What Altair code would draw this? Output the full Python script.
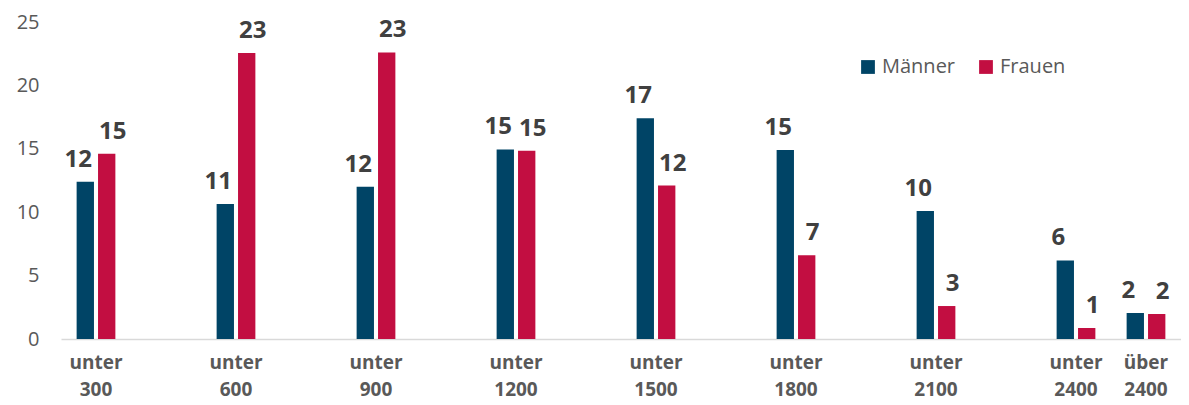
import altair as alt
import pandas as pd

categories = ["unter 300", "unter 600", "unter 900", "unter 1200", "unter 1500",
              "unter 1800", "unter 2100", "unter 2400", "über 2400"]
maenner = [12.4, 10.65, 12.0, 14.95, 17.4, 14.9, 10.1, 6.2, 2.05]
frauen = [14.6, 22.55, 22.6, 14.85, 12.1, 6.6, 2.6, 0.87, 1.97]
series = ["Männer", "Frauen"]
colors = ["#004466", "#C20E41"]

rows = []
for c, m, f in zip(categories, maenner, frauen):
    rows.append({"Kategorie": c, "Geschlecht": "Männer", "Wert": m})
    rows.append({"Kategorie": c, "Geschlecht": "Frauen", "Wert": f})
df = pd.DataFrame(rows)

# empty category slots between the "unter" brackets (as in the original axis)
domain = []
for i, c in enumerate(categories):
    domain.append(c)
    if c.startswith("unter") and i < len(categories) - 2:
        domain.append(f"gap{i}")

FONT = "Open Sans"

base = alt.Chart(df).encode(
    x=alt.X(
        "Kategorie:N",
        scale=alt.Scale(domain=domain, paddingInner=0, paddingOuter=0),
        axis=alt.Axis(
            title=None,
            labelExpr="indexof(datum.value, 'gap') === 0 ? '' : split(datum.value, ' ')",
            labelAngle=0,
            ticks=False,
            domainColor="#D9D9D9",
            domainWidth=1.5,
            labelFontWeight="bold",
            labelFontSize=19,
            labelColor="#595959",
            labelPadding=14,
            labelLineHeight=27,
        ),
    ),
    xOffset=alt.XOffset("Geschlecht:N", sort=series,
                        scale=alt.Scale(paddingInner=0.19, paddingOuter=0.73)),
    y=alt.Y(
        "Wert:Q",
        scale=alt.Scale(domain=[0, 25], nice=False),
        axis=alt.Axis(
            title=None,
            values=[0, 5, 10, 15, 20, 25],
            grid=False,
            domain=False,
            ticks=False,
            labelFontSize=20,
            labelColor="#595959",
            labelPadding=22,
        ),
    ),
)

bars = base.mark_bar().encode(
    color=alt.Color(
        "Geschlecht:N",
        sort=series,
        scale=alt.Scale(domain=series, range=colors),
        legend=alt.Legend(
            title=None,
            orient="none",
            legendX=797,
            legendY=35,
            direction="horizontal",
            symbolType="square",
            symbolSize=190,
            symbolStrokeWidth=0,
            labelFontSize=20,
            labelColor="#595959",
            columnPadding=20,
            labelOffset=4,
        ),
    )
)

label_style = dict(dy=-15, baseline="alphabetic", fontSize=24,
                   fontWeight="bold", color="#404040")

labels_m = base.transform_filter(alt.datum.Geschlecht == "Männer").mark_text(
    dx=-7, **label_style
).encode(text=alt.Text("Wert:Q", format=".0f"))

labels_f = base.transform_filter(alt.datum.Geschlecht == "Frauen").mark_text(
    dx=6, **label_style
).encode(text=alt.Text("Wert:Q", format=".0f"))

chart = (
    alt.layer(bars, labels_m, labels_f)
    .properties(
        width=1120,
        height=317,
        autosize=alt.AutoSizeParams(type="none"),
        padding={"left": 53, "top": 14, "right": 0, "bottom": 66},
    )
    .configure(font=FONT)
    .configure_view(stroke=None)
)

chart.save("out.html", embed_options={"renderer": "svg", "actions": False})
